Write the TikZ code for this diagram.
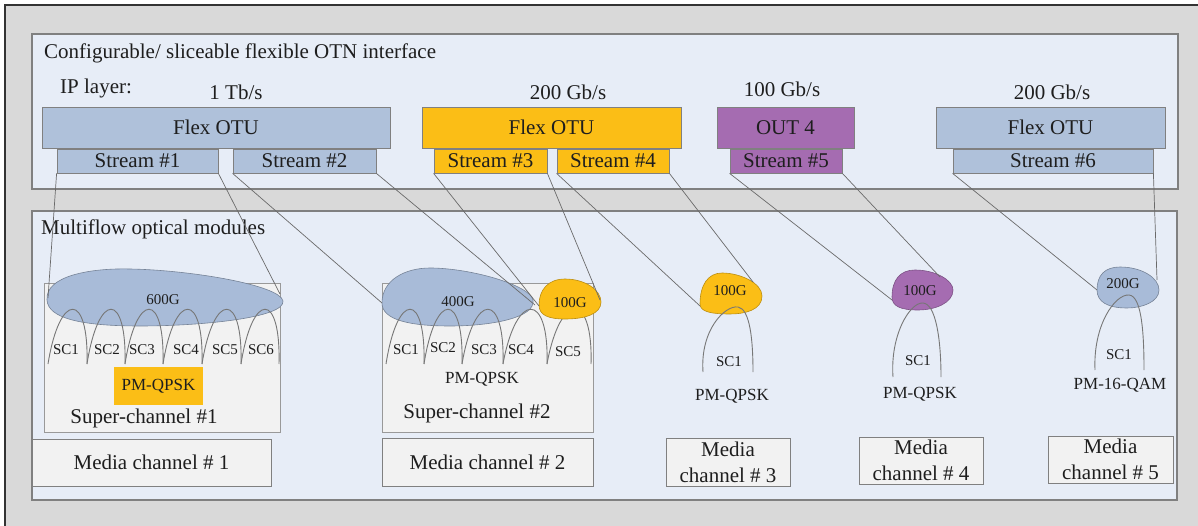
\documentclass[tikz,border=0pt]{standalone}
\usepackage{fontspec}
\setmainfont{Liberation Serif}
\definecolor{outerbg}{HTML}{D9D9D9}
\definecolor{panel}{HTML}{E7EDF7}
\definecolor{panelline}{HTML}{808080}
\definecolor{otublue}{HTML}{AFC1DA}
\definecolor{blobblue}{HTML}{A8BBD8}
\definecolor{orng}{HTML}{FBBE16}
\definecolor{purp}{HTML}{A56CB1}
\definecolor{boxfill}{HTML}{F2F2F2}
\definecolor{txt}{HTML}{1E1E1E}
\definecolor{conn}{HTML}{6A6A6A}
\definecolor{arcc}{HTML}{777777}
\newcommand{\scarch}[2]{\draw[arcline] ({#1},364) .. controls ({#1+0.3*(#2-#1)},291) and ({#2+0.05*(#2-#1)},291) .. ({#2},364);}
\begin{document}
\begin{tikzpicture}[x=1pt,y=-1pt,
  big/.style={font=\fontsize{21}{26}\selectfont, inner sep=0pt, text=txt},
  med/.style={font=\fontsize{17}{20}\selectfont, inner sep=0pt, text=txt},
  sml/.style={font=\fontsize{15}{18}\selectfont, inner sep=0pt, text=txt},
  otubox/.style={big, draw=panelline, line width=0.8pt, minimum height=41pt},
  streambox/.style={big, draw=panelline, line width=0.8pt, minimum height=24pt},
  mediabox/.style={big, draw=panelline, line width=0.9pt, fill=boxfill, align=center},
  scbox/.style={draw=black!40, line width=0.6pt, fill=boxfill},
  panelbox/.style={draw=panelline, line width=1.1pt, fill=panel},
  blob/.style={line width=0.6pt},
  connline/.style={draw=conn, line width=0.7pt},
  arcline/.style={draw=arcc, line width=0.9pt}
]
\useasboundingbox (0,0) rectangle (1198,526);
\fill[white] (0,0) rectangle (1198,526);
\fill[outerbg] (5,5) rectangle (1198,526);
\draw[line width=2pt, black!80] (5,527) -- (5,5) -- (1199,5);

% panels
\draw[panelbox] (32,34) rectangle (1178,189);
\draw[panelbox] (32,211) rectangle (1177,500);

% top panel texts
\node[big, anchor=base west] (title) at (44,59) {Configurable/ sliceable flexible OTN interface};
\node[big, anchor=base west] (iplayer) at (60,94) {IP layer:};
\node[big, anchor=base] (r1) at (236,100) {1 Tb/s};
\node[big, anchor=base] (r2) at (568,100) {200 Gb/s};
\node[big, anchor=base] (r3) at (782,97) {100 Gb/s};
\node[big, anchor=base] (r4) at (1052,100) {200 Gb/s};

% OTU boxes
\node[otubox, fill=otublue, minimum width=348pt] (otu1) at (216,127.5) {Flex OTU};
\node[otubox, fill=orng, minimum width=259pt] (otu2) at (551.5,127.5) {Flex OTU};
\node[otubox, fill=purp, minimum width=137pt] (otu3) at (785.5,127.5) {OUT 4};
\node[otubox, fill=otublue, minimum width=229pt] (otu4) at (1050.5,127.5) {Flex OTU};

% streams
\node[streambox, fill=otublue, minimum width=161pt] (s1) at (137.5,161) {Stream \#1};
\node[streambox, fill=otublue, minimum width=143pt] (s2) at (304.5,161) {Stream \#2};
\node[streambox, fill=orng, minimum width=113pt] (s3) at (490.5,161) {Stream \#3};
\node[streambox, fill=orng, minimum width=112pt] (s4) at (613,161) {Stream \#4};
\node[streambox, fill=purp, minimum width=112pt] (s5) at (786,161) {Stream \#5};
\node[streambox, fill=otublue, minimum width=200pt] (s6) at (1053,161) {Stream \#6};

% bottom panel
\node[big, anchor=base west] (multi) at (41,235) {Multiflow optical modules};

\draw[scbox] (44,283) rectangle (280,432);
\draw[scbox] (382,283) rectangle (593,432);

% SC2 arc 5 (partly behind 100G blob)
\scarch{547}{591}

% blobs
\draw[blob, fill=blobblue, draw=blobblue!70!black] (47,300) .. controls (45,276) and (90,268) .. (130,269) .. controls (190,270) and (280,285) .. (283,301) .. controls (285,318) and (200,326) .. (140,326) .. controls (80,326) and (48,318) .. (47,300) -- cycle;
\draw[blob, fill=blobblue, draw=blobblue!70!black] (382,303) .. controls (382,280) and (405,268) .. (430,268) .. controls (470,268) and (530,285) .. (533,300) .. controls (536,318) and (490,326) .. (450,326) .. controls (410,326) and (382,320) .. (382,303) -- cycle;
\draw[blob, fill=orng, draw=orng!75!black] (539,305) .. controls (539,290) and (548,279) .. (565,279) .. controls (585,279) and (601,290) .. (601,302) .. controls (601,314) and (585,319) .. (565,319) .. controls (548,319) and (539,315) .. (539,305) -- cycle;
\draw[blob, fill=orng, draw=orng!75!black] (700,304) .. controls (700,285) and (708,273) .. (722,273) .. controls (740,273) and (762,283) .. (762,296) .. controls (762,310) and (745,314) .. (730,314) .. controls (712,314) and (700,312) .. (700,304) -- cycle;
\draw[blob, fill=purp, draw=purp!75!black] (892,297) .. controls (892,280) and (900,270) .. (915,270) .. controls (935,270) and (953,280) .. (953,290) .. controls (953,303) and (935,310) .. (918,310) .. controls (900,310) and (892,306) .. (892,297) -- cycle;
\draw[blob, fill=blobblue, draw=blobblue!70!black] (1097,290) .. controls (1097,275) and (1105,267) .. (1120,267) .. controls (1142,267) and (1159,278) .. (1159,290) .. controls (1159,302) and (1142,308) .. (1127,308) .. controls (1108,308) and (1097,302) .. (1097,290) -- cycle;

\coordinate (b600L) at (48,298);
\coordinate (b600R) at (280,294);
\coordinate (b400L) at (382,303);
\coordinate (b400R) at (535,305);
\coordinate (b100aL) at (539,306);
\coordinate (b100aR) at (600,300);
\coordinate (b100bL) at (700,306);
\coordinate (b100bR) at (753,282);
\coordinate (b100cL) at (892,300);
\coordinate (b100cR) at (940,277);
\coordinate (b200L) at (1097,290);
\coordinate (b200R) at (1157,280);

% blob labels
\node[sml, anchor=base] (t600) at (163,305) {600G};
\node[sml, anchor=base] (t400) at (458,306) {400G};
\node[sml, anchor=base] (t100a) at (570,307) {100G};
\node[sml, anchor=base] (t100b) at (730,295) {100G};
\node[sml, anchor=base] (t100c) at (920,295) {100G};
\node[sml, anchor=base] (t200) at (1123,289) {200G};

% SC arcs super-channel 1
\scarch{48}{87}
\scarch{87}{125}
\scarch{125}{163}
\scarch{163}{202}
\scarch{202}{241}
\scarch{241}{279}
% super-channel 2
\scarch{386}{424}
\scarch{424}{462}
\scarch{462}{503}
\scarch{503}{547}

% single channel arcs
\draw[arcline] (703,372) .. controls (700,330) and (725,305) .. (738,307) .. controls (750,309) and (753,340) .. (753,372);
\draw[arcline] (893,377) .. controls (890,335) and (910,302) .. (923,303) .. controls (936,304) and (941,340) .. (941,377);
\draw[arcline] (1095,370) .. controls (1093,325) and (1115,294) .. (1129,295) .. controls (1142,296) and (1144,335) .. (1144,370);

% SC labels
\node[sml, anchor=base] (sc11) at (66,354) {SC1};
\node[sml, anchor=base] (sc12) at (107,354) {SC2};
\node[sml, anchor=base] (sc13) at (142,354) {SC3};
\node[sml, anchor=base] (sc14) at (186,354) {SC4};
\node[sml, anchor=base] (sc15) at (225,354) {SC5};
\node[sml, anchor=base] (sc16) at (261,354) {SC6};
\node[sml, anchor=base] (sc21) at (406,354) {SC1};
\node[sml, anchor=base] (sc22) at (443,352) {SC2};
\node[sml, anchor=base] (sc23) at (484,354) {SC3};
\node[sml, anchor=base] (sc24) at (521,354) {SC4};
\node[sml, anchor=base] (sc25) at (568,356) {SC5};
\node[sml, anchor=base] (sc3) at (729,366) {SC1};
\node[sml, anchor=base] (sc4) at (918,365) {SC1};
\node[sml, anchor=base] (sc5) at (1119,359) {SC1};

% modulation
\node[med, fill=orng, minimum width=89pt, minimum height=38pt] (mod1) at (158.5,386) {PM-QPSK};
\node[med, anchor=base] (mod2) at (482,383) {PM-QPSK};
\node[med, anchor=base] (mod3) at (732,400) {PM-QPSK};
\node[med, anchor=base] (mod4) at (920,398) {PM-QPSK};
\node[med, anchor=base] (mod5) at (1120,389) {PM-16-QAM};

\node[big, anchor=base] (sup1) at (144,423) {Super-channel \#1};
\node[big, anchor=base] (sup2) at (477,418) {Super-channel \#2};

% media channels
\node[mediabox, minimum width=239pt, minimum height=47pt] (mc1) at (151.5,462.5) {Media channel \# 1};
\node[mediabox, minimum width=211pt, minimum height=48pt] (mc2) at (487.5,462) {Media channel \# 2};
\node[mediabox, minimum width=124pt, minimum height=48pt] (mc3) at (728,462) {Media\\channel \# 3};
\node[mediabox, minimum width=124pt, minimum height=47pt] (mc4) at (921,460.5) {Media\\channel \# 4};
\node[mediabox, minimum width=125pt, minimum height=47pt] (mc5) at (1110.5,459.5) {Media\\channel \# 5};

% connectors
\draw[connline] (s1.south west) -- (b600L);
\draw[connline] (s1.south east) -- (b600R);
\draw[connline] (s2.south west) -- (b400L);
\draw[connline] (s2.south east) -- (b400R);
\draw[connline] (s3.south west) -- (b100aL);
\draw[connline] (s3.south east) -- (b100aR);
\draw[connline] (s4.south west) -- (b100bL);
\draw[connline] (s4.south east) -- (b100bR);
\draw[connline] (s5.south west) -- (b100cL);
\draw[connline] (s5.south east) -- (b100cR);
\draw[connline] (s6.south west) -- (b200L);
\draw[connline] (s6.south east) -- (b200R);
\end{tikzpicture}
\end{document}
